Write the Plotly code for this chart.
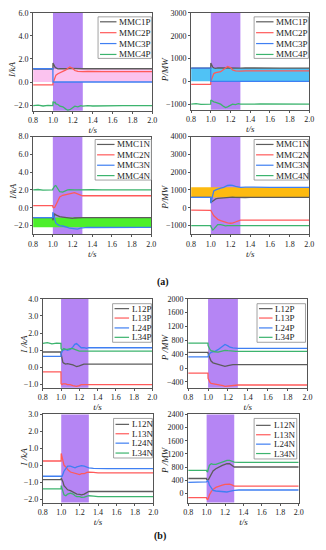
import plotly.graph_objects as go

# ---------------- data ----------------
T = [0.80, 0.85, 0.90, 0.95, 0.999, 1.00, 1.01, 1.02, 1.03, 1.05, 1.07, 1.10, 1.13, 1.15,
     1.17, 1.20, 1.22, 1.25, 1.28, 1.30, 1.35, 1.40, 1.50, 1.60, 1.70, 1.80, 1.90, 2.00]

# (a) top-left: I/kA, P-side
MMC1P_I = [1.13, 1.13, 1.14, 1.13, 1.13, 1.65, 1.45, 1.30, 1.22, 1.15, 1.17, 1.14, 1.16, 1.15,
           1.18, 1.16, 1.14, 1.15, 1.16, 1.15, 1.16, 1.15, 1.15, 1.16, 1.15, 1.15, 1.15, 1.15]
MMC2P_I = [-0.25, -0.25, -0.24, -0.25, -0.25, -0.10, 0.20, 0.45, 0.60, 0.72, 0.80, 0.88, 1.05, 1.20,
           1.30, 1.18, 1.00, 0.92, 0.90, 0.90, 0.92, 0.90, 0.90, 0.91, 0.90, 0.90, 0.90, 0.90]
MMC3P_I = [1.15, 1.15, 1.15, 1.15, 1.15, 0.0, 0.0, 0.0, 0.0, 0.0, 0.0, 0.0, 0.0, 0.0,
           0.0, 0.0, 0.0, 0.0, 0.0, 0.0, 0.0, 0.0, 0.0, 0.0, 0.0, 0.0, 0.0, 0.0]
MMC4P_I = [-2.05, -2.00, -2.08, -2.02, -2.05, -1.70, -1.80, -1.75, -1.90, -1.95, -2.10, -2.15, -2.35, -2.45,
           -2.40, -2.20, -2.10, -2.15, -2.05, -2.10, -2.05, -2.08, -2.05, -2.06, -2.05, -2.05, -2.05, -2.05]

# (a) top-right: P/MW, P-side
MMC1P_P = [575, 575, 580, 575, 575, 800, 700, 620, 590, 570, 585, 575, 580, 585,
           590, 580, 575, 580, 585, 580, 585, 580, 580, 585, 580, 580, 580, 580]
MMC2P_P = [-130, -130, -125, -130, -130, 0, 150, 270, 340, 380, 400, 420, 520, 600,
           650, 600, 500, 460, 450, 450, 460, 450, 455, 460, 455, 455, 455, 455]
MMC3P_P = [580, 580, 580, 580, 580, 0, 0, 0, 0, 0, 0, 0, 0, 0,
           0, 0, 0, 0, 0, 0, 0, 0, 0, 0, 0, 0, 0, 0]
MMC4P_P = [-1000, -980, -1010, -990, -1000, -820, -850, -860, -900, -920, -960, -1000, -1100, -1150,
           -1120, -1050, -1000, -1020, -980, -1000, -990, -1000, -995, -1000, -1000, -1000, -1000, -1000]

# (a) bottom-left: I/kA, N-side
MMC1N_I = [-1.10, -1.10, -1.12, -1.10, -1.10, -1.40, -1.10, -0.70, -0.80, -0.95, -1.00, -1.05, -1.10, -1.12,
           -1.15, -1.20, -1.15, -1.10, -1.12, -1.10, -1.10, -1.12, -1.10, -1.10, -1.10, -1.10, -1.10, -1.10]
MMC2N_I = [0.25, 0.25, 0.24, 0.25, 0.25, 0.10, 0.00, 0.05, 0.30, 0.80, 1.20, 1.40, 1.45, 1.50,
           1.55, 1.65, 1.70, 1.60, 1.45, 1.35, 1.35, 1.36, 1.35, 1.35, 1.35, 1.35, 1.35, 1.35]
MMC3N_I = [-1.10, -1.12, -1.08, -1.10, -1.10, -0.50, -1.00, -1.40, -1.70, -1.90, -2.00, -2.05, -2.10, -2.20,
           -2.30, -2.35, -2.40, -2.40, -2.30, -2.25, -2.20, -2.22, -2.20, -2.20, -2.20, -2.20, -2.20, -2.20]
MMC4N_I = [2.00, 2.05, 1.98, 2.02, 2.00, 2.10, 2.30, 2.45, 2.50, 2.20, 1.80, 1.75, 1.95, 2.00,
           2.02, 1.98, 2.00, 2.00, 2.02, 2.00, 2.00, 2.02, 2.00, 2.00, 2.00, 2.00, 2.00, 2.00]

# (a) bottom-right: P/MW, N-side
MMC1N_P = [580, 580, 585, 580, 580, 300, 350, 400, 450, 500, 530, 550, 570, 580,
           600, 620, 600, 580, 590, 580, 575, 580, 580, 580, 580, 580, 580, 580]
MMC2N_P = [-130, -130, -125, -130, -130, -150, -250, -350, -450, -550, -650, -720, -780, -820,
           -850, -870, -860, -800, -720, -700, -700, -700, -700, -700, -700, -700, -700, -700]
MMC3N_P = [580, 585, 575, 580, 580, 250, 500, 800, 950, 1000, 1050, 1100, 1150, 1200,
           1250, 1270, 1260, 1200, 1170, 1150, 1160, 1150, 1150, 1150, 1150, 1150, 1150, 1150]
MMC4N_P = [-1000, -990, -1010, -1000, -1000, -1050, -1150, -1250, -1200, -1050, -950, -950, -1000, -1020,
           -1000, -980, -1000, -1000, -1010, -1000, -1000, -1000, -1000, -1000, -1000, -1000, -1000, -1000]

# (b) top-left: I/kA lines P
L12P_I = [0.90, 0.90, 0.88, 0.90, 0.90, 0.80, 0.50, 0.30, 0.25, 0.20, 0.22, 0.20, 0.15, 0.10,
          0.05, 0.10, 0.15, 0.20, 0.20, 0.20, 0.20, 0.20, 0.20, 0.20, 0.20, 0.20, 0.20, 0.20]
L13P_I = [-0.25, -0.25, -0.24, -0.25, -0.25, -0.95, -1.00, -0.95, -0.95, -0.95, -1.00, -1.00, -1.05, -1.08,
          -1.10, -1.05, -1.00, -1.00, -1.00, -1.00, -1.00, -0.98, -1.00, -1.00, -1.00, -1.00, -1.00, -1.00]
L24P_I = [0.65, 0.65, 0.66, 0.64, 0.65, 0.80, 0.95, 1.00, 1.02, 1.05, 1.00, 1.05, 1.20, 1.35,
          1.40, 1.25, 1.15, 1.15, 1.12, 1.15, 1.15, 1.12, 1.15, 1.15, 1.15, 1.15, 1.15, 1.15]
L34P_I = [1.40, 1.45, 1.38, 1.42, 1.40, 1.10, 1.00, 1.05, 1.10, 1.05, 1.05, 1.10, 1.10, 1.05,
          1.00, 0.95, 0.95, 0.97, 0.95, 0.95, 0.95, 0.95, 0.95, 0.95, 0.95, 0.95, 0.95, 0.95]

# (b) top-right: P/MW lines P
L12P_P = [450, 450, 455, 450, 450, 420, 350, 250, 200, 150, 130, 110, 90, 70,
          50, 70, 90, 100, 100, 100, 100, 100, 100, 100, 100, 100, 100, 100]
L13P_P = [-150, -150, -145, -150, -150, -300, -380, -420, -440, -450, -460, -470, -490, -510,
          -530, -520, -500, -490, -490, -490, -490, -490, -490, -490, -490, -490, -490, -490]
L24P_P = [320, 320, 325, 320, 320, 350, 400, 430, 450, 460, 480, 530, 600, 650,
          680, 640, 600, 580, 570, 570, 570, 565, 570, 570, 570, 570, 570, 570]
L34P_P = [720, 720, 725, 720, 720, 650, 580, 530, 500, 480, 470, 460, 480, 500,
          510, 500, 490, 490, 480, 480, 480, 480, 480, 480, 480, 480, 480, 480]

# (b) bottom-left: I/kA lines N
L12N_I = [-0.85, -0.85, -0.87, -0.85, -0.85, -0.75, -0.85, -1.00, -1.20, -1.35, -1.45, -1.50, -1.60, -1.65,
          -1.70, -1.72, -1.75, -1.70, -1.60, -1.55, -1.55, -1.55, -1.55, -1.55, -1.55, -1.55, -1.55, -1.55]
L13N_I = [0.25, 0.25, 0.27, 0.25, 0.25, 0.70, 0.50, 0.20, 0.00, -0.10, -0.25, -0.40, -0.45, -0.50,
          -0.50, -0.55, -0.50, -0.50, -0.42, -0.40, -0.42, -0.45, -0.45, -0.45, -0.45, -0.45, -0.45, -0.45]
L24N_I = [-0.65, -0.65, -0.63, -0.65, -0.65, -0.70, -0.65, -0.50, -0.35, -0.20, -0.05, -0.05, -0.10, -0.15,
          -0.10, -0.05, -0.02, -0.05, -0.10, -0.15, -0.18, -0.20, -0.20, -0.20, -0.20, -0.20, -0.20, -0.20]
L34N_I = [-1.40, -1.40, -1.38, -1.40, -1.40, -1.20, -1.40, -1.60, -1.75, -1.80, -1.70, -1.65, -1.70, -1.80,
          -1.85, -1.85, -1.90, -1.88, -1.82, -1.80, -1.82, -1.85, -1.85, -1.85, -1.85, -1.85, -1.85, -1.85]

# (b) bottom-right: P/MW lines N
L12N_P = [450, 450, 455, 450, 450, 420, 400, 420, 480, 600, 680, 750, 800, 830,
          850, 880, 900, 900, 850, 800, 800, 800, 800, 800, 800, 800, 800, 800]
L13N_P = [-130, -130, -125, -130, -130, -150, -200, -150, -50, 50, 120, 180, 220, 240,
          250, 270, 280, 280, 250, 220, 220, 220, 220, 220, 220, 220, 220, 220]
L24N_P = [330, 330, 335, 330, 330, 350, 380, 350, 250, 150, 90, 70, 60, 50,
          40, 30, 40, 60, 80, 90, 100, 100, 100, 100, 100, 100, 100, 100]
L34N_P = [700, 700, 705, 700, 700, 680, 650, 750, 850, 900, 880, 880, 900, 930,
          950, 980, 1000, 1000, 970, 950, 940, 940, 940, 940, 940, 940, 940, 940]

FAULT_WINDOW = [1.0, 1.3]
X_TICKS = [0.8, 1.0, 1.2, 1.4, 1.6, 1.8, 2.0]

# ---------------- styling ----------------
SERIF = "Liberation Serif"
LINE_COLORS = ["#5c5c5c", "#ff5a5a", "#3f7ff2", "#3cb46e"]
PURPLE = "#b585f4"
FRAME = "#555555"

W, H = 326, 550

def px(x):
    return x / W

def py(y):
    return 1 - y / H

panels = [
    dict(names=["MMC1P", "MMC2P", "MMC3P", "MMC4P"], ys=[MMC1P_I, MMC2P_I, MMC3P_I, MMC4P_I],
         ylab="<i>I/kA</i>", ylpos=(8, 67), yr=[-2.5, 6.0], yt=[-2.0, 0.0, 2.0, 4.0, 6.0], fmt=".1f",
         dom=(29, 152, 9, 108), band=(0.0, 1.15, "#fbc3ef"),
         leg=(96, 151, 13, 55), rows=[18, 29, 40, 51], lx=(98, 115, 117)),
    dict(names=["MMC1P", "MMC2P", "MMC3P", "MMC4P"], ys=[MMC1P_P, MMC2P_P, MMC3P_P, MMC4P_P],
         ylab="<i>P/MW</i>", ylpos=(165, 66), yr=[-1250, 3000], yt=[-1000, 0, 1000, 2000, 3000], fmt="d",
         dom=(192, 314, 9, 107), band=(0, 580, "#50c2f5"),
         leg=(257, 313, 13, 55), rows=[18, 29, 40, 51], lx=(259, 277, 279)),
    dict(names=["MMC1N", "MMC2N", "MMC3N", "MMC4N"], ys=[MMC1N_I, MMC2N_I, MMC3N_I, MMC4N_I],
         ylab="<i>I/kA</i>", ylpos=(8, 190), yr=[-3.0, 8.0], yt=[-2.0, 0.0, 2.0, 4.0, 6.0, 8.0], fmt=".1f",
         dom=(29, 151, 134, 233), band=(-2.2, -1.1, "#4def2b"),
         leg=(93, 151, 137, 178), rows=[142, 152.5, 163, 173.5], lx=(95, 113, 115)),
    dict(names=["MMC1N", "MMC2N", "MMC3N", "MMC4N"], ys=[MMC1N_P, MMC2N_P, MMC3N_P, MMC4N_P],
         ylab="<i>P/MW</i>", ylpos=(165, 195), yr=[-1500, 4000], yt=[-1000, 0, 1000, 2000, 3000, 4000], fmt="d",
         dom=(192, 314, 134, 233), band=(580, 1150, "#fdba10"),
         leg=(257, 313, 137, 178), rows=[142, 152.5, 163, 173.5], lx=(259, 277, 279)),
    dict(names=["L12P", "L13P", "L24P", "L34P"], ys=[L12P_I, L13P_I, L24P_I, L34P_I],
         ylab="<i>I /kA</i>", ylpos=(20, 344), yr=[-1.18, 4.0], yt=[-1.0, 0.0, 1.0, 2.0, 3.0, 4.0], fmt=".1f",
         dom=(39, 152, 298, 388), band=None,
         leg=(111, 151, 303, 342), rows=[308, 317.5, 327.5, 337], lx=(113, 128, 130)),
    dict(names=["L12P", "L13P", "L24P", "L34P"], ys=[L12P_P, L13P_P, L24P_P, L34P_P],
         ylab="<i>P /MW</i>", ylpos=(165, 347), yr=[-570, 2000], yt=[-400, 0, 400, 800, 1200, 1600, 2000], fmt="d",
         dom=(189, 312, 298, 388), band=None,
         leg=(260, 310, 303, 342), rows=[308, 317.5, 327.5, 337], lx=(262, 276, 278)),
    dict(names=["L12N", "L13N", "L24N", "L34N"], ys=[L12N_I, L13N_I, L24N_I, L34N_I],
         ylab="<i>I /kA</i>", ylpos=(20, 458), yr=[-2.2, 3.0], yt=[-2.0, -1.0, 0.0, 1.0, 2.0, 3.0], fmt=".1f",
         dom=(39, 153, 415, 504), band=None,
         leg=(112, 152, 419, 459), rows=[425, 434.5, 444, 454], lx=(114, 128, 130)),
    dict(names=["L12N", "L13N", "L24N", "L34N"], ys=[L12N_P, L13N_P, L24N_P, L34N_P],
         ylab="<i>P /MW</i>", ylpos=(165, 461), yr=[-280, 2400], yt=[0, 400, 800, 1200, 1600, 2000, 2400], fmt="d",
         dom=(189, 303, 415, 504), band=None,
         leg=(257, 301, 419, 460), rows=[426, 435.5, 445, 454.5], lx=(259, 274, 276)),
]

fig = go.Figure()
shapes = []
annotations = []
layout = dict(
    width=W, height=H, margin=dict(l=0, r=0, t=0, b=0),
    paper_bgcolor="white", plot_bgcolor="white", showlegend=False,
    font=dict(family=SERIF, size=9, color="#222222"),
)

for i, p in enumerate(panels):
    k = i + 1
    xa = "x" if k == 1 else f"x{k}"
    ya = "y" if k == 1 else f"y{k}"
    l, r, t, b = p["dom"]
    axfmt = dict(showline=True, mirror=True, linecolor=FRAME, linewidth=1,
                 ticks="outside", ticklen=2, tickcolor=FRAME, tickwidth=1,
                 showgrid=False, zeroline=False, ticklabelstandoff=0,
                 tickfont=dict(family=SERIF, size=8, color="#222222"))
    layout[f"xaxis{'' if k == 1 else k}"] = dict(
        domain=[px(l), px(r)], anchor=ya, range=[0.8, 2.0], tickvals=X_TICKS,
        tickformat=".1f", title=dict(text="<i>t/s</i>", standoff=2,
                                    font=dict(family=SERIF, size=9)), **axfmt)
    layout[f"yaxis{'' if k == 1 else k}"] = dict(
        domain=[py(b), py(t)], anchor=xa, range=p["yr"], tickvals=p["yt"],
        tickformat=p["fmt"], **axfmt)

    annotations.append(dict(text=p["ylab"], xref="paper", yref="paper",
                            x=px(p["ylpos"][0]), y=py(p["ylpos"][1]), textangle=-90,
                            xanchor="center", yanchor="middle", showarrow=False,
                            font=dict(family=SERIF, size=9, color="#222222")))

    if p["band"] is not None:
        y0, y1, col = p["band"]
        shapes.append(dict(type="rect", xref=xa, yref=ya, x0=0.8, x1=2.0, y0=y0, y1=y1,
                           fillcolor=col, line=dict(width=0), layer="below"))
    shapes.append(dict(type="rect", xref=xa, yref=f"{ya} domain", x0=FAULT_WINDOW[0],
                       x1=FAULT_WINDOW[1], y0=0, y1=1, fillcolor=PURPLE,
                       line=dict(width=0), layer="below"))

    for name, yv, col in zip(p["names"], p["ys"], LINE_COLORS):
        fig.add_trace(go.Scatter(x=T, y=yv, name=name, mode="lines",
                                 line=dict(color=col, width=1.3),
                                 xaxis=xa, yaxis=ya, hoverinfo="name+x+y"))

    lx0, lx1, ly0, ly1 = p["leg"]
    shapes.append(dict(type="rect", xref="paper", yref="paper", x0=px(lx0), x1=px(lx1),
                       y0=py(ly1), y1=py(ly0), fillcolor="white",
                       line=dict(color="#8a8a8a", width=0.8), layer="above"))
    s0, s1, tx = p["lx"]
    for name, row, col in zip(p["names"], p["rows"], LINE_COLORS):
        shapes.append(dict(type="line", xref="paper", yref="paper", x0=px(s0), x1=px(s1),
                           y0=py(row), y1=py(row), line=dict(color=col, width=1.2),
                           layer="above"))
        annotations.append(dict(text=name, xref="paper", yref="paper", x=px(tx), y=py(row),
                                xanchor="left", yanchor="middle", showarrow=False,
                                borderpad=0,
                                font=dict(family=SERIF, size=9, color="#222222")))

annotations.append(dict(text="<b>(a)</b>", xref="paper", yref="paper", x=px(163), y=py(281),
                        xanchor="center", yanchor="middle", showarrow=False,
                        font=dict(family=SERIF, size=10, color="#111111")))
annotations.append(dict(text="<b>(b)</b>", xref="paper", yref="paper", x=px(160), y=py(538),
                        xanchor="center", yanchor="middle", showarrow=False,
                        font=dict(family=SERIF, size=10, color="#111111")))

layout["shapes"] = shapes
layout["annotations"] = annotations
fig.update_layout(**layout)
fig.write_html("out.html", config={"displayModeBar": False},
               post_script="document.body.style.margin='0';document.body.style.padding='0';")
